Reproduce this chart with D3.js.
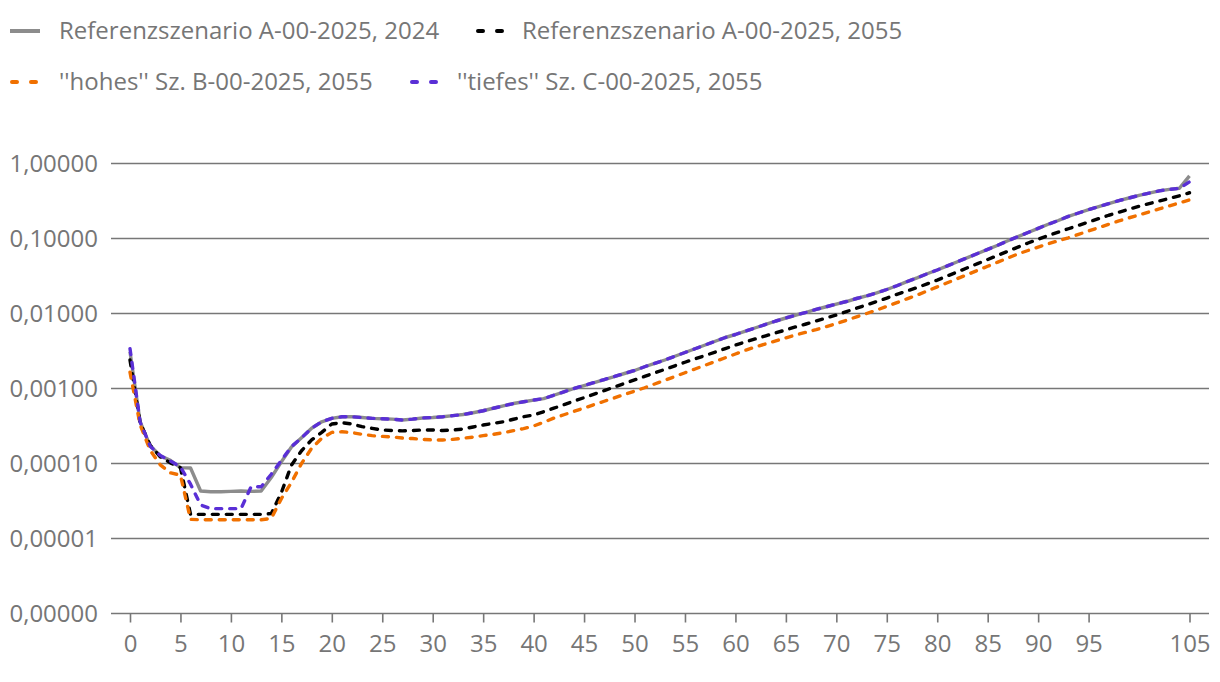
<!DOCTYPE html>
<html><head><meta charset="utf-8">
<script src="https://cdn.jsdelivr.net/npm/d3@7"></script>
<style>
html,body{margin:0;padding:0;background:#fff;}
svg text{font-family:"Open Sans","Noto Sans",sans-serif;}
</style></head>
<body>
<svg id="chart" width="1220" height="682"></svg>
<script>
const ages = d3.range(0, 106);
const xTickValues = [0,5,10,15,20,25,30,35,40,45,50,55,60,65,70,75,80,85,90,95,105];
const yTickValues = [1, 0.1, 0.01, 0.001, 0.0001, 0.00001, 0.000001];
const yTickLabels = ["1,00000","0,10000","0,01000","0,00100","0,00010","0,00001","0,00000"];
const seriesNames = ["Referenzszenario A-00-2025, 2024","Referenzszenario A-00-2025, 2055","''hohes'' Sz. B-00-2025, 2055","''tiefes'' Sz. C-00-2025, 2055"];

const ref2024 = [0.0031, 3.6e-4, 1.72e-4, 1.27e-4, 1.1e-4, 8.8e-5, 8.7e-5, 4.3e-5, 4.2e-5, 4.2e-5,
 4.25e-5, 4.3e-5, 4.25e-5, 4.3e-5, 6.5e-5, 1.05e-4, 1.66e-4, 2.2e-4, 2.95e-4, 3.6e-4,
 4.0e-4, 4.2e-4, 4.2e-4, 4.1e-4, 4.0e-4, 3.95e-4, 3.9e-4, 3.8e-4, 3.9e-4, 4.05e-4,
 4.1e-4, 4.2e-4, 4.35e-4, 4.5e-4, 4.75e-4, 5.05e-4, 5.45e-4, 5.85e-4, 6.3e-4, 6.65e-4,
 7.0e-4, 7.33e-4, 8.13e-4, 9.02e-4, 1.0e-3, 1.096e-3, 1.202e-3, 1.318e-3, 1.445e-3, 1.585e-3,
 1.738e-3, 1.95e-3, 2.163e-3, 2.399e-3, 2.692e-3, 3.02e-3, 3.388e-3, 3.802e-3, 4.266e-3, 4.786e-3,
 5.248e-3, 5.82e-3, 6.457e-3, 7.16e-3, 7.943e-3, 8.71e-3, 9.55e-3, 1.035e-2, 1.135e-2, 1.23e-2,
 1.334e-2, 1.445e-2, 1.585e-2, 1.718e-2, 1.884e-2, 2.089e-2, 2.344e-2, 2.661e-2, 2.985e-2, 3.388e-2,
 3.802e-2, 4.315e-2, 4.898e-2, 5.559e-2, 6.31e-2, 7.16e-2, 8.128e-2, 9.33e-2, 0.1059, 0.1202,
 0.1365, 0.1549, 0.1738, 0.1972, 0.2188, 0.2427, 0.2661, 0.2917, 0.3199, 0.3467,
 0.3758, 0.4027, 0.4315, 0.4519, 0.4677, 0.684];

const ref2055 = [0.0024, 3.5e-4, 1.75e-4, 1.23e-4, 1.02e-4, 8.8e-5, 2.1e-5, 2.1e-5, 2.1e-5, 2.1e-5,
 2.1e-5, 2.1e-5, 2.1e-5, 2.1e-5, 2.15e-5, 4.1e-5, 9.5e-5, 1.48e-4, 2.06e-4, 2.6e-4,
 3.36e-4, 3.5e-4, 3.36e-4, 3.1e-4, 2.94e-4, 2.8e-4, 2.75e-4, 2.72e-4, 2.75e-4, 2.8e-4,
 2.8e-4, 2.75e-4, 2.8e-4, 2.88e-4, 3.07e-4, 3.26e-4, 3.43e-4, 3.6e-4, 3.89e-4, 4.2e-4,
 4.43e-4, 4.9e-4, 5.46e-4, 6.08e-4, 6.78e-4, 7.55e-4, 8.41e-4, 9.38e-4, 1.047e-3, 1.167e-3,
 1.3e-3, 1.449e-3, 1.614e-3, 1.799e-3, 2.009e-3, 2.239e-3, 2.483e-3, 2.754e-3, 3.055e-3, 3.404e-3,
 3.793e-3, 4.188e-3, 4.592e-3, 5.035e-3, 5.521e-3, 6.053e-3, 6.653e-3, 7.244e-3, 7.943e-3, 8.71e-3,
 9.55e-3, 1.059e-2, 1.175e-2, 1.303e-2, 1.445e-2, 1.603e-2, 1.799e-2, 1.995e-2, 2.213e-2, 2.483e-2,
 2.786e-2, 3.162e-2, 3.589e-2, 4.074e-2, 4.624e-2, 5.248e-2, 5.957e-2, 6.761e-2, 7.674e-2, 8.71e-2,
 9.772e-2, 0.1096, 0.1216, 0.1349, 0.1496, 0.166, 0.1841, 0.2042, 0.2239, 0.2455,
 0.2692, 0.2917, 0.3162, 0.3428, 0.3715, 0.4074];

const high2055 = [0.00165, 3.3e-4, 1.5e-4, 9.6e-5, 7.5e-5, 7.0e-5, 1.8e-5, 1.78e-5, 1.78e-5, 1.78e-5,
 1.78e-5, 1.78e-5, 1.78e-5, 1.78e-5, 1.85e-5, 3.4e-5, 5.6e-5, 1.0e-4, 1.6e-4, 2.17e-4,
 2.6e-4, 2.65e-4, 2.58e-4, 2.45e-4, 2.35e-4, 2.3e-4, 2.26e-4, 2.19e-4, 2.15e-4, 2.1e-4,
 2.06e-4, 2.06e-4, 2.1e-4, 2.17e-4, 2.25e-4, 2.35e-4, 2.45e-4, 2.57e-4, 2.74e-4, 2.92e-4,
 3.16e-4, 3.55e-4, 4.027e-4, 4.467e-4, 4.955e-4, 5.495e-4, 6.095e-4, 6.761e-4, 7.499e-4, 8.318e-4,
 9.226e-4, 1.023e-3, 1.148e-3, 1.288e-3, 1.445e-3, 1.622e-3, 1.82e-3, 2.042e-3, 2.291e-3, 2.57e-3,
 2.884e-3, 3.236e-3, 3.589e-3, 3.936e-3, 4.315e-3, 4.732e-3, 5.188e-3, 5.623e-3, 6.095e-3, 6.683e-3,
 7.328e-3, 8.128e-3, 9.016e-3, 1.0e-2, 1.109e-2, 1.245e-2, 1.396e-2, 1.567e-2, 1.758e-2, 1.995e-2,
 2.265e-2, 2.57e-2, 2.917e-2, 3.311e-2, 3.758e-2, 4.266e-2, 4.842e-2, 5.495e-2, 6.237e-2, 6.918e-2,
 7.674e-2, 8.511e-2, 9.333e-2, 0.1023, 0.1135, 0.1259, 0.1396, 0.1549, 0.1718, 0.1884,
 0.2065, 0.2265, 0.2483, 0.2723, 0.2985, 0.3273];

const low2055 = [0.0034, 3.6e-4, 1.7e-4, 1.28e-4, 1.08e-4, 9.0e-5, 5.3e-5, 2.8e-5, 2.5e-5, 2.5e-5,
 2.5e-5, 2.5e-5, 4.9e-5, 4.9e-5, 7.2e-5, 1.1e-4, 1.68e-4, 2.2e-4, 2.95e-4, 3.6e-4,
 4.0e-4, 4.2e-4, 4.2e-4, 4.1e-4, 4.0e-4, 3.95e-4, 3.9e-4, 3.8e-4, 3.9e-4, 4.05e-4,
 4.1e-4, 4.2e-4, 4.35e-4, 4.5e-4, 4.75e-4, 5.05e-4, 5.45e-4, 5.85e-4, 6.3e-4, 6.65e-4,
 7.0e-4, 7.33e-4, 8.13e-4, 9.02e-4, 1.0e-3, 1.096e-3, 1.202e-3, 1.318e-3, 1.445e-3, 1.585e-3,
 1.738e-3, 1.95e-3, 2.163e-3, 2.399e-3, 2.692e-3, 3.02e-3, 3.388e-3, 3.802e-3, 4.266e-3, 4.786e-3,
 5.248e-3, 5.82e-3, 6.457e-3, 7.16e-3, 7.943e-3, 8.71e-3, 9.55e-3, 1.035e-2, 1.135e-2, 1.23e-2,
 1.334e-2, 1.445e-2, 1.585e-2, 1.718e-2, 1.884e-2, 2.089e-2, 2.344e-2, 2.661e-2, 2.985e-2, 3.388e-2,
 3.802e-2, 4.315e-2, 4.898e-2, 5.559e-2, 6.31e-2, 7.16e-2, 8.128e-2, 9.33e-2, 0.1059, 0.1202,
 0.1365, 0.1549, 0.1738, 0.1972, 0.2188, 0.2427, 0.2661, 0.2917, 0.3199, 0.3467,
 0.3758, 0.4027, 0.4315, 0.4519, 0.465, 0.57];

const series = [
  {name: seriesNames[0], values: ref2024, color: "#8c8c8c", dash: null},
  {name: seriesNames[1], values: ref2055, color: "#000000", dash: "6,8"},
  {name: seriesNames[2], values: high2055, color: "#f07000", dash: "6,8"},
  {name: seriesNames[3], values: low2055, color: "#5a2fd6", dash: "6,8"}
];

const svg = d3.select("#chart");
const x = d3.scaleLinear().domain([0, 105]).range([130, 1189.5]);
const y = d3.scaleLog().domain([1e-6, 1]).range([613.5, 163.5]);
const gridColor = "#777777";
const textColor = "#767676";
const fontSize = 24;

// gridlines
svg.append("g").selectAll("line").data(yTickValues).join("line")
  .attr("x1", 111).attr("x2", 1209)
  .attr("y1", d => y(d)).attr("y2", d => y(d))
  .attr("stroke", gridColor).attr("stroke-width", 1.6);

// y labels
svg.append("g").selectAll("text").data(yTickValues).join("text")
  .attr("x", 98).attr("y", d => y(d)).attr("dy", "0.35em")
  .attr("text-anchor", "end").attr("font-size", fontSize).attr("fill", textColor)
  .text((d, i) => yTickLabels[i]);

// x axis
const xAxis = d3.axisBottom(x).tickValues(xTickValues).tickSize(9).tickPadding(12).tickFormat(d3.format("d"));
const gx = svg.append("g").attr("transform", `translate(0,${y(1e-6)})`).call(xAxis);
gx.select(".domain").remove();
gx.selectAll(".tick line").attr("stroke", gridColor).attr("stroke-width", 1.6);
gx.selectAll(".tick text").attr("font-size", fontSize).attr("fill", textColor)
  .attr("font-family", "'Open Sans','Noto Sans',sans-serif");

// lines
const line = d3.line().x((d, i) => x(ages[i])).y(d => y(d));
svg.append("g").selectAll("path").data(series).join("path")
  .attr("d", d => line(d.values))
  .attr("fill", "none")
  .attr("stroke", d => d.color)
  .attr("stroke-width", 3.4)
  .attr("stroke-linecap", d => d.dash ? "round" : "butt")
  .attr("stroke-linejoin", "round")
  .attr("stroke-dasharray", d => d.dash);

// legend
const legendPos = [
  {lx: 10, ly: 31, tx: 59},
  {lx: 476, ly: 31, tx: 522},
  {lx: 10, ly: 82, tx: 59},
  {lx: 410, ly: 82, tx: 457}
];
const lg = svg.append("g").selectAll("g").data(series).join("g");
lg.append("line")
  .attr("x1", (d, i) => legendPos[i].lx + (d.dash ? 2 : 0)).attr("x2", (d, i) => legendPos[i].lx + (d.dash ? 30 : 30))
  .attr("y1", (d, i) => legendPos[i].ly).attr("y2", (d, i) => legendPos[i].ly)
  .attr("stroke", d => d.color).attr("stroke-width", 4)
  .attr("stroke-linecap", d => d.dash ? "round" : "butt")
  .attr("stroke-dasharray", d => d.dash ? "5,14" : null);
lg.append("text")
  .attr("x", (d, i) => legendPos[i].tx).attr("y", (d, i) => legendPos[i].ly).attr("dy", "0.35em")
  .attr("font-size", fontSize).attr("fill", textColor)
  .text(d => d.name);
</script>
</body></html>
